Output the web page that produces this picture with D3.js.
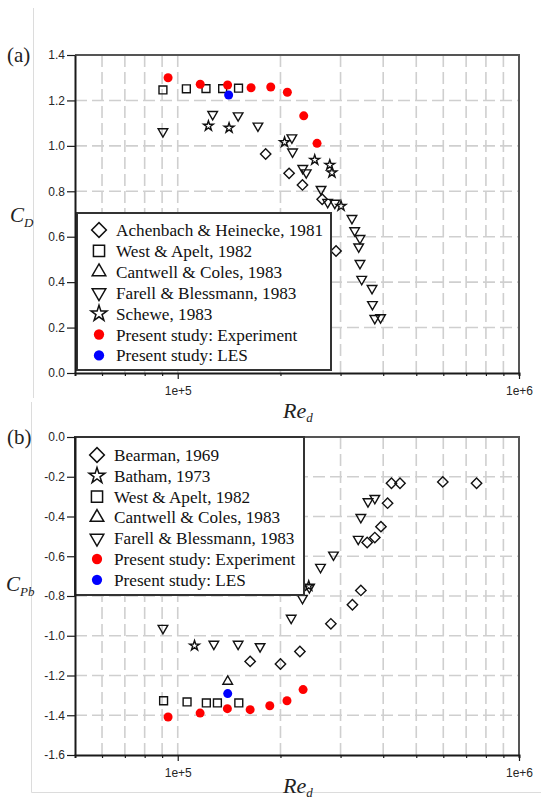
<!DOCTYPE html>
<html>
<head>
<meta charset="utf-8">
<script src="https://cdn.jsdelivr.net/npm/d3@7"></script>
<style>
	body { margin: 0; background: #fff; }
	.grid line { stroke: #cfcfcf; stroke-width: 1.6; stroke-dasharray: 12,5; }
	.axis text { font-family: "Liberation Sans", Arial, sans-serif; font-size: 12px; fill: #262626; }
	.axis .domain { stroke: #1a1a1a; stroke-width: 2; }
	.axis .tick line { stroke: #1a1a1a; stroke-width: 1.2; }
	.legend-text { font-family: "Liberation Serif", "Times New Roman", serif; font-size: 17.2px; fill: #111; }
	.serif { font-family: "Liberation Serif", "Times New Roman", serif; fill: #222; }
</style>
</head>
<body>
<svg id="chart" width="541" height="802"></svg>
<script>

////////////////////////////////////////////////////////////
////////////////////////// Data ////////////////////////////
////////////////////////////////////////////////////////////

//Panel (a) - drag coefficient C_D against Re_d  [Re, CD]
var cdAchenbach = [[1.81e5,0.964],[2.12e5,0.879],[2.32e5,0.828],[2.65e5,0.765],[2.91e5,0.537]];
var cdWest = [[9.05e4,1.246],[1.06e5,1.251],[1.21e5,1.252],[1.354e5,1.252],[1.507e5,1.254]];
var cdCantwell = [];
var cdFarell = [[9.05e4,1.063],[1.266e5,1.139],[1.503e5,1.133],[1.718e5,1.088],[2.16e5,1.036],
	[2.17e5,0.974],[2.325e5,0.901],[2.38e5,0.882],[2.63e5,0.809],[2.75e5,0.752],[2.886e5,0.748],
	[3.24e5,0.681],[3.30e5,0.627],[3.42e5,0.593],[3.39e5,0.556],[3.42e5,0.483],[3.46e5,0.413],
	[3.71e5,0.373],[3.72e5,0.302],[3.78e5,0.241],[3.93e5,0.244]];
var cdSchewe = [[1.23e5,1.088],[1.414e5,1.079],[2.056e5,1.016],[2.52e5,0.938],[2.79e5,0.916],[2.83e5,0.882],[3.01e5,0.735]];
var cdExperiment = [[9.37e4,1.300],[1.164e5,1.271],[1.40e5,1.268],[1.64e5,1.256],[1.873e5,1.259],[2.095e5,1.236],[2.34e5,1.132],[2.56e5,1.011]];
var cdLes = [[1.41e5,1.224]];

//Panel (b) - base pressure coefficient C_Pb against Re_d  [Re, Cpb]
var cpBearman = [[4.23e5,-0.233],[4.48e5,-0.233],[5.98e5,-0.226],[7.51e5,-0.233],[4.12e5,-0.333],
	[3.94e5,-0.451],[3.78e5,-0.506],[3.59e5,-0.531],[3.44e5,-0.772],[3.25e5,-0.844],[2.81e5,-0.940],
	[2.28e5,-1.079],[2.00e5,-1.142],[1.63e5,-1.129]];
var cpBatham = [[1.12e5,-1.050],[2.42e5,-0.749]];
var cpWest = [[9.09e4,-1.327],[1.065e5,-1.333],[1.213e5,-1.338],[1.307e5,-1.338],[1.51e5,-1.338]];
var cpCantwell = [[1.401e5,-1.230]];
var cpFarell = [[3.78e5,-0.308],[3.61e5,-0.325],[3.44e5,-0.404],[3.38e5,-0.514],[2.86e5,-0.593],
	[2.62e5,-0.655],[2.43e5,-0.757],[2.32e5,-0.811],[2.15e5,-0.911],[9.05e4,-0.962],[1.276e5,-1.042],
	[1.503e5,-1.042],[1.743e5,-1.054]];
var cpExperiment = [[9.37e4,-1.409],[1.163e5,-1.389],[1.398e5,-1.367],[1.63e5,-1.372],[1.861e5,-1.352],[2.09e5,-1.327],[2.33e5,-1.271]];
var cpLes = [[1.401e5,-1.291]];

//Legend labels
var legendLabelsA = ["Achenbach & Heinecke, 1981", "West & Apelt, 1982", "Cantwell & Coles, 1983",
	"Farell & Blessmann, 1983", "Schewe, 1983", "Present study: Experiment", "Present study: LES"];
var legendLabelsB = ["Bearman, 1969", "Batham, 1973", "West & Apelt, 1982", "Cantwell & Coles, 1983",
	"Farell & Blessmann, 1983", "Present study: Experiment", "Present study: LES"];

//Ticks
var xGridValues = [6e4,7e4,8e4,9e4,1e5,2e5,3e5,4e5,5e5,6e5,7e5,8e5,9e5];
var xTickValues = [6e4,7e4,8e4,9e4,1e5,2e5,3e5,4e5,5e5,6e5,7e5,8e5,9e5,1e6];
var xTickLabels = {"100000": "1e+5", "1000000": "1e+6"};
var yTicksA = [0,0.2,0.4,0.6,0.8,1.0,1.2,1.4];
var yTickLabelsA = ["0.0","0.2","0.4","0.6","0.8","1.0","1.2","1.4"];
var yTicksB = [0,-0.2,-0.4,-0.6,-0.8,-1.0,-1.2,-1.4,-1.6];
var yTickLabelsB = ["0.0","-0.2","-0.4","-0.6","-0.8","-1.0","-1.2","-1.4","-1.6"];

////////////////////////////////////////////////////////////
///////////////////////// Setup ////////////////////////////
////////////////////////////////////////////////////////////

var svg = d3.select("#chart");

var plotLeft = 75, plotRight = 519;
var x = d3.scaleLog().domain([5e4, 1e6]).range([plotLeft, plotRight]);

var yA = d3.scaleLinear().domain([0, 1.4]).range([373, 55]);
var yB = d3.scaleLinear().domain([-1.6, 0]).range([755, 437]);

//Marker styles
var sym = {
	diamond: {type: d3.symbolSquare, size: 54, rot: 45},
	square: {type: d3.symbolSquare, size: 62, rot: 0},
	triUp: {type: d3.symbolTriangle, size: 40, rot: 0},
	triDown: {type: d3.symbolTriangle, size: 40, rot: 180},
	star: {type: d3.symbolStar, size: 30, rot: 0},
	red: {type: d3.symbolCircle, size: Math.PI*4.5*4.5, rot: 0, fill: "#ff0000"},
	blue: {type: d3.symbolCircle, size: Math.PI*4.5*4.5, rot: 0, fill: "#0000ff"}
};

//Faint frames around each panel
svg.append("line").attr("x1", 33.5).attr("x2", 33.5).attr("y1", 8).attr("y2", 398)
	.style("stroke", "#dcdcdc").style("stroke-width", 1);
svg.append("path").attr("d", "M31.5,402 L31.5,792.5 L541,792.5")
	.style("fill", "none").style("stroke", "#dcdcdc").style("stroke-width", 1);

////////////////////////////////////////////////////////////
////////////////////// Panel drawing ///////////////////////
////////////////////////////////////////////////////////////

function drawPanel(y, yTicks, yLabels, series, legend, opts) {

	var top = y.range()[1], bottom = y.range()[0];
	var g = svg.append("g");

	//Grid
	var grid = g.append("g").attr("class", "grid");
	grid.selectAll(".gx").data(xGridValues).enter().append("line")
		.attr("x1", function(d) { return x(d); }).attr("x2", function(d) { return x(d); })
		.attr("y1", top).attr("y2", bottom);
	grid.selectAll(".gy").data(yTicks.slice(1, -1)).enter().append("line")
		.attr("x1", plotLeft).attr("x2", plotRight)
		.attr("y1", function(d) { return y(d); }).attr("y2", function(d) { return y(d); });

	//Frame top & right
	g.append("path")
		.attr("d", "M" + plotLeft + "," + top + " L" + plotRight + "," + top + " L" + plotRight + "," + bottom)
		.style("fill", "none").style("stroke", "#555").style("stroke-width", 2);

	//Markers
	series.forEach(function(s) {
		var st = sym[s.sym];
		g.selectAll(null).data(s.data).enter().append("path")
			.attr("d", d3.symbol().type(st.type).size(st.size))
			.attr("transform", function(d) {
				return "translate(" + x(d[0]) + "," + y(d[1]) + ") rotate(" + st.rot + ")";
			})
			.style("fill", st.fill ? st.fill : "none")
			.style("stroke", st.fill ? "none" : "#111")
			.style("stroke-width", 1.4);
	});

	//Legend
	var lg = g.append("g").attr("transform", "translate(" + opts.lx + "," + opts.ly + ")");
	lg.append("rect")
		.attr("width", opts.lw).attr("height", opts.lh)
		.style("fill", "#fff").style("stroke", "#333").style("stroke-width", 2);

	var rows = lg.selectAll(".legend-row")
		.data(legend)
		.enter().append("g")
		.attr("transform", function(d, i) { return "translate(0," + (opts.firstRow + i*opts.rowStep) + ")"; });

	rows.append("path")
		.attr("d", function(d) {
			var st = sym[d.sym];
			var scale = st.fill ? 1.3 : (d.sym === "star" ? 2.6 : 2.0);
			return d3.symbol().type(st.type).size(st.size*scale)();
		})
		.attr("transform", function(d) { return "translate(22,0) rotate(" + sym[d.sym].rot + ")"; })
		.style("fill", function(d) { return sym[d.sym].fill ? sym[d.sym].fill : "none"; })
		.style("stroke", function(d) { return sym[d.sym].fill ? "none" : "#111"; })
		.style("stroke-width", 1.5);

	rows.append("text")
		.attr("class", "legend-text")
		.attr("x", 39)
		.attr("dy", "0.35em")
		.text(function(d) { return d.label; });

	//Axes
	var yAxis = d3.axisLeft(y)
		.tickValues(yTicks)
		.tickSize(8).tickSizeOuter(0).tickPadding(2)
		.tickFormat(function(d, i) { return yLabels[i]; });
	g.append("g").attr("class", "axis")
		.attr("transform", "translate(" + plotLeft + ",0)")
		.call(yAxis);

	var xAxis = d3.axisBottom(x)
		.tickValues(xTickValues)
		.tickSizeOuter(0).tickSize(3)
		.tickFormat(function(d) { return xTickLabels[String(d)] || ""; });
	var xg = g.append("g").attr("class", "axis")
		.attr("transform", "translate(0," + bottom + ")")
		.call(xAxis);
	xg.selectAll(".tick line")
		.attr("y2", function(d) { return xTickLabels[String(d)] ? 6 : 3; });
	xg.selectAll(".tick text").attr("y", 13);

	//Panel label
	svg.append("text").attr("class", "serif")
		.attr("x", 7).attr("y", top + 7)
		.style("font-size", "21px")
		.text(opts.panel);

	//Axis titles
	var yt = svg.append("text").attr("class", "serif")
		.attr("x", opts.ytx).attr("y", opts.yty)
		.style("font-style", "italic").style("font-size", "21px");
	yt.append("tspan").text("C");
	yt.append("tspan").attr("dy", 5).style("font-size", "13px").text(opts.ysub);

	var xt = svg.append("text").attr("class", "serif")
		.attr("x", 283).attr("y", opts.xty)
		.style("font-style", "italic").style("font-size", "22px");
	xt.append("tspan").text("Re");
	xt.append("tspan").attr("dy", 4).style("font-size", "13px").text("d");

}//drawPanel

////////////////////////////////////////////////////////////
///////////////////// Draw the panels //////////////////////
////////////////////////////////////////////////////////////

drawPanel(yA, yTicksA, yTickLabelsA,
	[
		{data: cdAchenbach, sym: "diamond"},
		{data: cdWest, sym: "square"},
		{data: cdCantwell, sym: "triUp"},
		{data: cdFarell, sym: "triDown"},
		{data: cdSchewe, sym: "star"},
		{data: cdExperiment, sym: "red"},
		{data: cdLes, sym: "blue"}
	],
	["diamond","square","triUp","triDown","star","red","blue"].map(function(s, i) {
		return {sym: s, label: legendLabelsA[i]};
	}),
	{lx: 77, ly: 213, lw: 254, lh: 157, firstRow: 17, rowStep: 20.9,
	 panel: "(a)", ysub: "D", ytx: 10, yty: 222, xty: 418}
);

drawPanel(yB, yTicksB, yTickLabelsB,
	[
		{data: cpBearman, sym: "diamond"},
		{data: cpWest, sym: "square"},
		{data: cpCantwell, sym: "triUp"},
		{data: cpFarell, sym: "triDown"},
		{data: cpBatham, sym: "star"},
		{data: cpExperiment, sym: "red"},
		{data: cpLes, sym: "blue"}
	],
	["diamond","star","square","triUp","triDown","red","blue"].map(function(s, i) {
		return {sym: s, label: legendLabelsB[i]};
	}),
	{lx: 75, ly: 437, lw: 229, lh: 158, firstRow: 18, rowStep: 20.8,
	 panel: "(b)", ysub: "Pb", ytx: 6, yty: 591, xty: 793}
);

</script>
</body>
</html>
